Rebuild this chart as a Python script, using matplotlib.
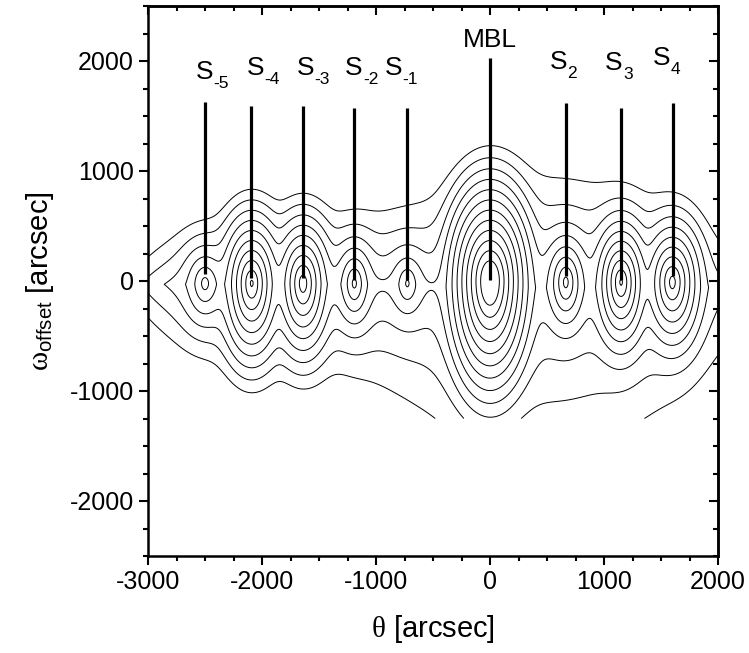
import numpy as np
import matplotlib
matplotlib.use("Agg")
import matplotlib.pyplot as plt
from matplotlib.ticker import MultipleLocator

plt.rcParams['font.family'] = ['Liberation Sans', 'DejaVu Sans']
plt.rcParams['mathtext.fontset'] = 'custom'
plt.rcParams['mathtext.rm'] = 'Liberation Sans'
plt.rcParams['mathtext.it'] = 'Liberation Serif'
plt.rcParams['mathtext.bf'] = 'Liberation Sans:bold'
plt.rcParams['axes.unicode_minus'] = False

# ---- peak parameters (theta, omega in arcsec) ----
peak_names = ['-5', '-4', '-3', '-2', '-1', 'MBL', '2', '3', '4']
peak_theta = [-2500, -2090, -1640, -1190, -725, 0, 665, 1150, 1600]
peak_omega = [-20, -20, -20, -20, -20, 0, -10, -10, -10]
peak_height = [6.5, 10.3, 9.8, 7.4, 6.2, 14.0, 8.5, 10.3, 9.6]   # log-intensity
peak_wx = [50, 40, 40, 40, 45, 41, 40, 38, 42]
peak_wy_up = [88, 90, 90, 88, 88, 92, 88, 86, 88]
peak_wy_down = [100, 104, 104, 100, 100, 110, 100, 100, 100]

# broad diffuse ridges (left group, right group)
env_theta = [-1700, 450]
env_omega = [-30, -60]
env_height = [4.0, 4.3]
env_sx = [1150, 1100]
env_px = [4, 2]
env_sy_up = [180, 300]
env_sy_down = [220, 450]

# contour levels (log-intensity)
levels = [1, 2, 3, 4, 5, 6, 7, 8, 9, 10, 11, 12]

# marker lines: theta position, top and bottom omega
line_theta = [-2497, -2094, -1641, -1195, -728, 0, 664, 1148, 1601]
line_top = [1630, 1590, 1590, 1575, 1575, 2030, 1615, 1575, 1615]
line_bottom = [65, 25, 25, 5, 5, 10, 45, 5, 45]

# labels: left x, baseline y
label_main = ['S', 'S', 'S', 'S', 'S', 'MBL', 'S', 'S', 'S']
label_sub = ['-5', '-4', '-3', '-2', '-1', '', '2', '3', '4']
label_x = [-2580, -2134, -1698, -1272, -925, 0, 524, 1010, 1430]
label_y = [1840, 1870, 1870, 1870, 1870, 2130, 1930, 1915, 1960]

# ---- grid ----
tx = np.arange(-3000, 2001, 10)
wy = np.arange(-1250, 1251, 10)
TX, WY = np.meshgrid(tx, wy)
I = np.zeros_like(TX, dtype=float)
for x0, y0, h, ax_, ayu, ayd in zip(peak_theta, peak_omega, peak_height,
                                     peak_wx, peak_wy_up, peak_wy_down):
    dy = WY - y0
    ay_ = np.where(dy >= 0, ayu, ayd)
    r = np.sqrt(((TX - x0) / ax_) ** 2 + (dy / ay_) ** 2)
    I += np.exp(h - r)
for x0, y0, h, sx, px, syu, syd in zip(env_theta, env_omega, env_height,
                                       env_sx, env_px, env_sy_up, env_sy_down):
    dy = WY - y0
    sy = np.where(dy >= 0, syu, syd)
    lev = h - np.abs(dy) / sy - np.abs((TX - x0) / sx) ** px
    I += np.exp(lev)
Z = np.log(I + 1e-12)

fig = plt.figure(figsize=(7.49, 6.53), dpi=100)
ax = fig.add_axes([148 / 749, 1 - 556 / 653, 570 / 749, 550 / 653])
ax.contour(TX, WY, Z, levels=levels, colors='black', linewidths=0.7)

for x, t, b in zip(line_theta, line_top, line_bottom):
    ax.plot([x, x], [b, t], color='black', lw=2.3, solid_capstyle='butt')

for m, s, x, y in zip(label_main, label_sub, label_x, label_y):
    if s == '':
        ax.text(x, y, m, ha='center', va='baseline', fontsize=19)
    else:
        ax.annotate(m, (x, y), xytext=(0, 0), textcoords='offset points',
                    ha='left', va='baseline', fontsize=19)
        ax.annotate(s, (x, y), xytext=(12.8, -6.5), textcoords='offset points',
                    ha='left', va='baseline', fontsize=12.5)

ax.set_xlim(-3000, 2000)
ax.set_ylim(-2500, 2500)
ax.xaxis.set_major_locator(MultipleLocator(1000))
ax.xaxis.set_minor_locator(MultipleLocator(250))
ax.yaxis.set_major_locator(MultipleLocator(1000))
ax.yaxis.set_minor_locator(MultipleLocator(250))
ax.tick_params(which='both', direction='out', width=1.5, labelsize=18)
ax.tick_params(which='major', length=6.5)
ax.tick_params(which='minor', length=3.5)
for sp in ax.spines.values():
    sp.set_linewidth(1.8)

secx = ax.secondary_xaxis('top')
secx.xaxis.set_major_locator(MultipleLocator(1000))
secx.xaxis.set_minor_locator(MultipleLocator(250))
secx.tick_params(which='both', direction='in', width=1.5, labeltop=False)
secx.tick_params(which='major', length=6.5)
secx.tick_params(which='minor', length=3.5)
secy = ax.secondary_yaxis('right')
secy.yaxis.set_major_locator(MultipleLocator(1000))
secy.yaxis.set_minor_locator(MultipleLocator(250))
secy.tick_params(which='both', direction='in', width=1.5, labelright=False)
secy.tick_params(which='major', length=6.5)
secy.tick_params(which='minor', length=3.5)
for sa in (secx, secy):
    for sp in sa.spines.values():
        sp.set_linewidth(1.8)

ax.set_xlabel(r'$\theta$ [arcsec]', fontsize=21, labelpad=14)
ax.set_ylabel(r'$\omega_{\mathrm{offset}}$ [arcsec]', fontsize=21, labelpad=10)

fig.savefig('out.png', dpi=100)
